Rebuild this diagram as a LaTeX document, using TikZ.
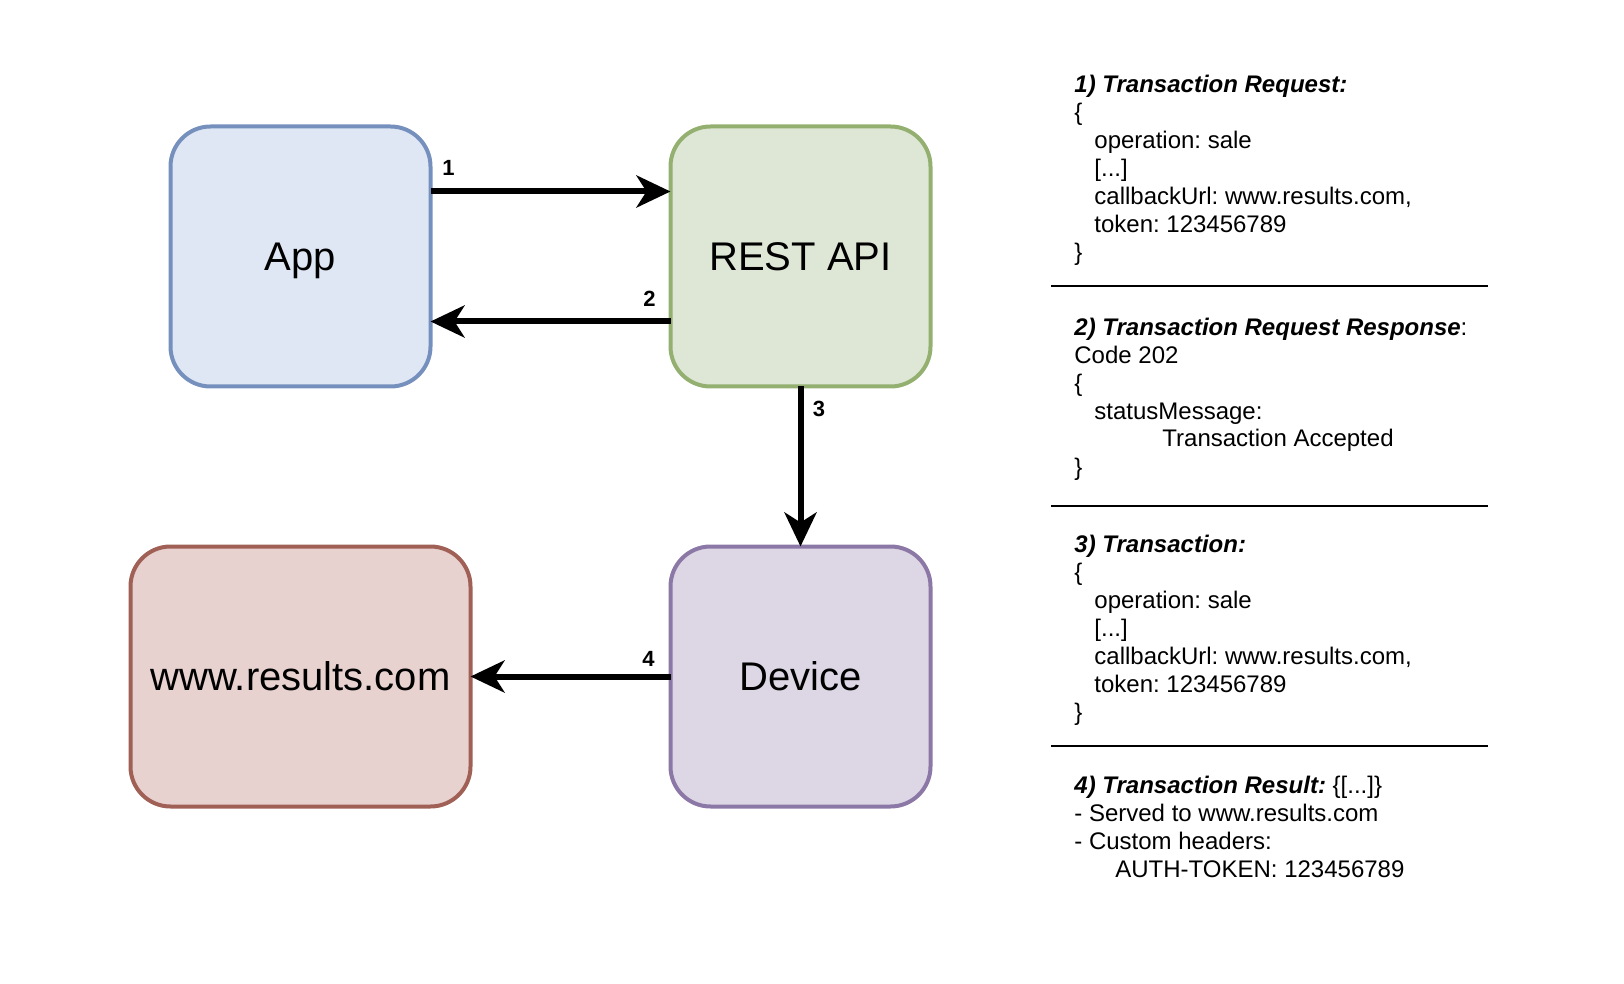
\documentclass[tikz,border=0pt]{standalone}
\usepackage{fontspec}
\setmainfont{Liberation Sans}
\usepackage{xcolor}
\usetikzlibrary{arrows.meta,positioning}
\frenchspacing

\definecolor{appfill}{RGB}{223,231,245}
\definecolor{appline}{RGB}{118,144,190}
\definecolor{apifill}{RGB}{222,230,213}
\definecolor{apiline}{RGB}{148,176,112}
\definecolor{webfill}{RGB}{232,210,208}
\definecolor{webline}{RGB}{160,96,86}
\definecolor{devfill}{RGB}{221,214,229}
\definecolor{devline}{RGB}{140,120,166}

\begin{document}
\begin{tikzpicture}[
    x=0.5pt, y=-0.5pt,
    node distance = 80pt and 120pt,
    box/.style   = {rectangle, rounded corners=20pt, line width=2pt, outer sep=0pt,
                    minimum width=130pt, minimum height=130pt,
                    text height=14.3pt, text depth=0pt,
                    font=\fontsize{20}{24}\selectfont},
    flow/.style  = {line width=3pt, -{Stealth[length=17pt,width=16pt,inset=5pt]}},
    num/.style   = {font=\fontsize{11}{13}\selectfont\bfseries, inner sep=0pt},
    note/.style  = {anchor=base west, align=left, inner sep=0pt,
                    font=\fontsize{12}{14}\selectfont},
    rule/.style  = {line width=1pt}
]
\useasboundingbox (0,0) rectangle (1624,984);

% Components
\node[box, fill=appfill, draw=appline] (App) at (300.5,256.5) {App};
\node[box, fill=apifill, draw=apiline, right=of App] (REST) {REST API};
\node[box, fill=devfill, draw=devline, below=of REST] (Device) {Device};
\node[box, fill=webfill, draw=webline, minimum width=170pt,
      left=100pt of Device] (Results) {www.results.com};

% Flows
\draw[flow] ([yshift=32.5pt]App.east) --
    node[num, pos=0, xshift=9pt, yshift=12pt] (n1) {1} ([yshift=32.5pt]REST.west);
\draw[flow] ([yshift=-32.5pt]REST.west) --
    node[num, pos=0, xshift=-10.5pt, yshift=11.5pt] (n2) {2} ([yshift=-32.5pt]App.east);
\draw[flow] (REST.south) --
    node[num, pos=0, xshift=9.3pt, yshift=-11.3pt] (n3) {3} (Device.north);
\draw[flow] (Device.west) --
    node[num, pos=0, xshift=-11pt, yshift=9pt] (n4) {4} (Results.east);

% Message notes (placed at the baseline of their last line)
\node[note] (req) at (1074,261) {\textbf{\textit{1) Transaction Request:}}\\
    \{\\
    \hspace*{10pt}operation: sale\\
    \hspace*{10pt}[...]\\
    \hspace*{10pt}callbackUrl: www.results.com,\\
    \hspace*{10pt}token: 123456789\\
    \}};
\node[note] (resp) at (1074,475) {\textbf{\textit{2) Transaction Request Response}}:\\
    Code 202\\
    \{\\
    \hspace*{10pt}statusMessage:\\
    \hspace*{44pt}Transaction Accepted\\
    \}};
\node[note] (txn) at (1074,720) {\textbf{\textit{3) Transaction:}}\\
    \{\\
    \hspace*{10pt}operation: sale\\
    \hspace*{10pt}[...]\\
    \hspace*{10pt}callbackUrl: www.results.com,\\
    \hspace*{10pt}token: 123456789\\
    \}};
\node[note] (result) at (1074,877) {\textbf{\textit{4) Transaction Result:}} \{[...]\}\\
    - Served to www.results.com\\
    - Custom headers:\\
    \hspace*{20.5pt}AUTH-TOKEN: 123456789};

% Separators
\draw[rule] (1051,286) -- (1488,286);
\draw[rule] (1051,506) -- (1488,506);
\draw[rule] (1051,746) -- (1488,746);

\end{tikzpicture}
\end{document}
